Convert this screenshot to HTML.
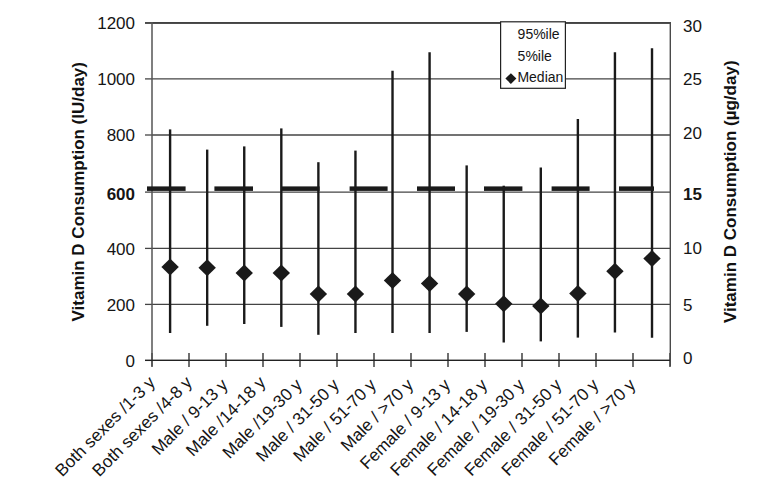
<!DOCTYPE html>
<html><head><meta charset="utf-8"><style>
html,body{margin:0;padding:0;background:#fff;}
svg{display:block;}
text{font-family:"Liberation Sans",sans-serif;fill:#151515;}
</style></head><body>
<svg width="779" height="488" viewBox="0 0 779 488">
<rect width="779" height="488" fill="#fff"/>

<line x1="152" y1="360.4" x2="670" y2="360.4" stroke="#444" stroke-width="1.3"/>
<line x1="152" y1="304.4" x2="670" y2="304.4" stroke="#444" stroke-width="1.3"/>
<line x1="152" y1="248.4" x2="670" y2="248.4" stroke="#444" stroke-width="1.3"/>
<line x1="152" y1="192.1" x2="670" y2="192.1" stroke="#444" stroke-width="1.3"/>
<line x1="152" y1="135.0" x2="670" y2="135.0" stroke="#444" stroke-width="1.3"/>
<line x1="152" y1="78.9" x2="670" y2="78.9" stroke="#444" stroke-width="1.3"/>
<line x1="152" y1="22.9" x2="670" y2="22.9" stroke="#444" stroke-width="1.3"/>
<line x1="145" y1="22.9" x2="670" y2="22.9" stroke="#333" stroke-width="1.5"/>
<line x1="145" y1="360.4" x2="152" y2="360.4" stroke="#444" stroke-width="1.3"/>
<line x1="145" y1="304.4" x2="152" y2="304.4" stroke="#444" stroke-width="1.3"/>
<line x1="145" y1="248.4" x2="152" y2="248.4" stroke="#444" stroke-width="1.3"/>
<line x1="145" y1="192.1" x2="152" y2="192.1" stroke="#444" stroke-width="1.3"/>
<line x1="145" y1="135.0" x2="152" y2="135.0" stroke="#444" stroke-width="1.3"/>
<line x1="145" y1="78.9" x2="152" y2="78.9" stroke="#444" stroke-width="1.3"/>
<line x1="145" y1="22.9" x2="152" y2="22.9" stroke="#444" stroke-width="1.3"/>
<line x1="152" y1="353" x2="152" y2="367" stroke="#333" stroke-width="1.4"/>
<line x1="189" y1="353" x2="189" y2="367" stroke="#333" stroke-width="1.4"/>
<line x1="226" y1="353" x2="226" y2="367" stroke="#333" stroke-width="1.4"/>
<line x1="263" y1="353" x2="263" y2="367" stroke="#333" stroke-width="1.4"/>
<line x1="300" y1="353" x2="300" y2="367" stroke="#333" stroke-width="1.4"/>
<line x1="337" y1="353" x2="337" y2="367" stroke="#333" stroke-width="1.4"/>
<line x1="374" y1="353" x2="374" y2="367" stroke="#333" stroke-width="1.4"/>
<line x1="411" y1="353" x2="411" y2="367" stroke="#333" stroke-width="1.4"/>
<line x1="448" y1="353" x2="448" y2="367" stroke="#333" stroke-width="1.4"/>
<line x1="485" y1="353" x2="485" y2="367" stroke="#333" stroke-width="1.4"/>
<line x1="522" y1="353" x2="522" y2="367" stroke="#333" stroke-width="1.4"/>
<line x1="559" y1="353" x2="559" y2="367" stroke="#333" stroke-width="1.4"/>
<line x1="596" y1="353" x2="596" y2="367" stroke="#333" stroke-width="1.4"/>
<line x1="633" y1="353" x2="633" y2="367" stroke="#333" stroke-width="1.4"/>
<line x1="670" y1="353" x2="670" y2="367" stroke="#333" stroke-width="1.4"/>
<line x1="152" y1="22" x2="152" y2="366" stroke="#555" stroke-width="1.5"/>
<line x1="670.3" y1="22" x2="670.3" y2="366" stroke="#4a4a4a" stroke-width="1.4"/>
<line x1="145" y1="360.45" x2="670" y2="360.45" stroke="#222" stroke-width="1.3"/>
<rect x="147" y="186.4" width="38.6" height="4.5" fill="#1a1a1a"/>
<rect x="214.4" y="186.4" width="38.6" height="4.5" fill="#1a1a1a"/>
<rect x="281" y="186.4" width="38.6" height="4.5" fill="#1a1a1a"/>
<rect x="349.6" y="186.4" width="38.0" height="4.5" fill="#1a1a1a"/>
<rect x="417" y="186.4" width="38.0" height="4.5" fill="#1a1a1a"/>
<rect x="484" y="186.4" width="38.4" height="4.5" fill="#1a1a1a"/>
<rect x="551.6" y="186.4" width="38.0" height="4.5" fill="#1a1a1a"/>
<rect x="619" y="186.4" width="35.0" height="4.5" fill="#1a1a1a"/>
<line x1="170.10" y1="129.4" x2="170.10" y2="333.0" stroke="#1a1a1a" stroke-width="2.4"/>
<line x1="207.17" y1="149.6" x2="207.17" y2="325.8" stroke="#1a1a1a" stroke-width="2.4"/>
<line x1="244.24" y1="146.4" x2="244.24" y2="324.0" stroke="#1a1a1a" stroke-width="2.4"/>
<line x1="281.31" y1="128.4" x2="281.31" y2="326.9" stroke="#1a1a1a" stroke-width="2.4"/>
<line x1="318.38" y1="162.2" x2="318.38" y2="334.8" stroke="#1a1a1a" stroke-width="2.4"/>
<line x1="355.45" y1="150.6" x2="355.45" y2="333.0" stroke="#1a1a1a" stroke-width="2.4"/>
<line x1="392.52" y1="70.7" x2="392.52" y2="333.0" stroke="#1a1a1a" stroke-width="2.4"/>
<line x1="429.59" y1="52.3" x2="429.59" y2="333.0" stroke="#1a1a1a" stroke-width="2.4"/>
<line x1="466.66" y1="165.4" x2="466.66" y2="331.9" stroke="#1a1a1a" stroke-width="2.4"/>
<line x1="503.73" y1="185.7" x2="503.73" y2="342.5" stroke="#1a1a1a" stroke-width="2.4"/>
<line x1="540.80" y1="167.5" x2="540.80" y2="341.4" stroke="#1a1a1a" stroke-width="2.4"/>
<line x1="577.87" y1="119" x2="577.87" y2="337.6" stroke="#1a1a1a" stroke-width="2.4"/>
<line x1="614.94" y1="52.3" x2="614.94" y2="332.5" stroke="#1a1a1a" stroke-width="2.4"/>
<line x1="652.01" y1="48.3" x2="652.01" y2="337.8" stroke="#1a1a1a" stroke-width="2.4"/>
<path d="M170.1 258.5 L178.79999999999998 267 L170.1 275.5 L161.4 267 Z" fill="#1a1a1a"/>
<path d="M207.17 259.2 L215.86999999999998 267.7 L207.17 276.2 L198.47 267.7 Z" fill="#1a1a1a"/>
<path d="M244.24 264.6 L252.94 273.1 L244.24 281.6 L235.54000000000002 273.1 Z" fill="#1a1a1a"/>
<path d="M281.31 264.6 L290.01 273.1 L281.31 281.6 L272.61 273.1 Z" fill="#1a1a1a"/>
<path d="M318.38 285.6 L327.08 294.1 L318.38 302.6 L309.68 294.1 Z" fill="#1a1a1a"/>
<path d="M355.45 285.6 L364.15 294.1 L355.45 302.6 L346.75 294.1 Z" fill="#1a1a1a"/>
<path d="M392.52 272.1 L401.21999999999997 280.6 L392.52 289.1 L383.82 280.6 Z" fill="#1a1a1a"/>
<path d="M429.59000000000003 275.0 L438.29 283.5 L429.59000000000003 292.0 L420.89000000000004 283.5 Z" fill="#1a1a1a"/>
<path d="M466.65999999999997 285.6 L475.35999999999996 294.1 L466.65999999999997 302.6 L457.96 294.1 Z" fill="#1a1a1a"/>
<path d="M503.73 295.3 L512.4300000000001 303.8 L503.73 312.3 L495.03000000000003 303.8 Z" fill="#1a1a1a"/>
<path d="M540.8 297.5 L549.5 306 L540.8 314.5 L532.0999999999999 306 Z" fill="#1a1a1a"/>
<path d="M577.87 284.9 L586.57 293.4 L577.87 301.9 L569.17 293.4 Z" fill="#1a1a1a"/>
<path d="M614.94 262.8 L623.6400000000001 271.3 L614.94 279.8 L606.24 271.3 Z" fill="#1a1a1a"/>
<path d="M652.01 250.10000000000002 L660.71 258.6 L652.01 267.1 L643.31 258.6 Z" fill="#1a1a1a"/>
<rect x="500.6" y="21.8" width="64.8" height="66.5" fill="#fff" stroke="#222" stroke-width="1.2"/>
<text x="517.6" y="38.6" font-size="14">95%ile</text>
<text x="517.6" y="60.8" font-size="14">5%ile</text>
<text x="517.4" y="82.3" font-size="14">Median</text>
<path d="M510.9 73.2 L516.4 78.6 L510.9 84 L505.4 78.6 Z" fill="#1a1a1a"/>
<text x="135" y="367.1" font-size="17" text-anchor="end" font-weight="normal">0</text>
<text x="135" y="311.2" font-size="17" text-anchor="end" font-weight="normal">200</text>
<text x="135" y="255.2" font-size="17" text-anchor="end" font-weight="normal">400</text>
<text x="135" y="199.9" font-size="17" text-anchor="end" font-weight="bold">600</text>
<text x="135" y="140.8" font-size="17" text-anchor="end" font-weight="normal">800</text>
<text x="135" y="85.1" font-size="17" text-anchor="end" font-weight="normal">1000</text>
<text x="135" y="29.1" font-size="17" text-anchor="end" font-weight="normal">1200</text>
<text x="683" y="364.1" font-size="17" font-weight="normal">0</text>
<text x="683" y="310.6" font-size="17" font-weight="normal">5</text>
<text x="683" y="253.6" font-size="17" font-weight="normal">10</text>
<text x="683" y="199.8" font-size="17" font-weight="bold">15</text>
<text x="683" y="139.1" font-size="17" font-weight="normal">20</text>
<text x="683" y="85.2" font-size="17" font-weight="normal">25</text>
<text x="683" y="32.1" font-size="17" font-weight="normal">30</text>
<text transform="translate(83.5,191.75) rotate(-90)" font-size="17" font-weight="bold" text-anchor="middle" style="fill:#111">Vitamin D Consumption (IU/day)</text>
<text transform="translate(736,191.75) rotate(-90)" font-size="17" font-weight="bold" text-anchor="middle" style="fill:#111">Vitamin D Consumption (µg/day)</text>
<text transform="translate(156.1,383.5) rotate(-45)" font-size="17.2" text-anchor="end">Both sexes /1-3 y</text>
<text transform="translate(193.2,383.5) rotate(-45)" font-size="17.2" text-anchor="end">Both sexes /4-8 y</text>
<text transform="translate(228.9,385.8) rotate(-45)" font-size="17.2" text-anchor="end">Male / 9-13 y</text>
<text transform="translate(266.7,383.5) rotate(-45)" font-size="17.2" text-anchor="end">Male /14-18 y</text>
<text transform="translate(303.1,385.8) rotate(-45)" font-size="17.2" text-anchor="end">Male /19-30 y</text>
<text transform="translate(340.1,385.8) rotate(-45)" font-size="17.2" text-anchor="end">Male / 31-50 y</text>
<text transform="translate(377.2,385.8) rotate(-45)" font-size="17.2" text-anchor="end">Male / 51-70 y</text>
<text transform="translate(414.3,385.8) rotate(-45)" font-size="17.2" text-anchor="end">Male / >70 y</text>
<text transform="translate(451.4,385.8) rotate(-45)" font-size="17.2" text-anchor="end">Female / 9-13 y</text>
<text transform="translate(488.4,385.8) rotate(-45)" font-size="17.2" text-anchor="end">Female / 14-18 y</text>
<text transform="translate(525.5,385.8) rotate(-45)" font-size="17.2" text-anchor="end">Female / 19-30 y</text>
<text transform="translate(562.6,385.8) rotate(-45)" font-size="17.2" text-anchor="end">Female / 31-50 y</text>
<text transform="translate(599.6,385.8) rotate(-45)" font-size="17.2" text-anchor="end">Female / 51-70 y</text>
<text transform="translate(636.5,385.8) rotate(-45)" font-size="17.2" text-anchor="end">Female / >70 y</text>
</svg></body></html>
